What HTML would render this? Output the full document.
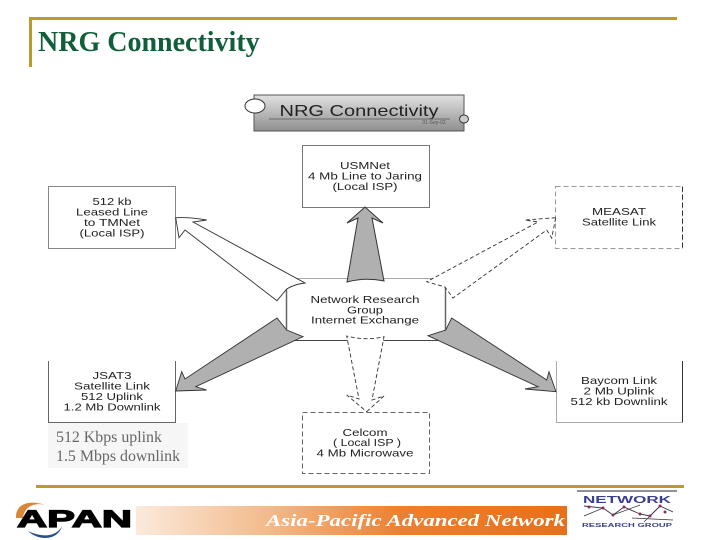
<!DOCTYPE html>
<html><head><meta charset="utf-8"><title>NRG Connectivity</title>
<style>
html,body{margin:0;padding:0;background:#fff}
svg{display:block}
.d{filter:blur(.3px)}
.d text{font-family:"Liberation Sans",sans-serif;font-size:10.5px;fill:#222;text-anchor:middle}
</style></head><body>
<svg width="720" height="540" viewBox="0 0 720 540" xmlns="http://www.w3.org/2000/svg">
<defs>
<linearGradient id="hd" x1="0" y1="0" x2="0" y2="1"><stop offset="0" stop-color="#e2e2e2"/><stop offset="1" stop-color="#8f8f8f"/></linearGradient>
<linearGradient id="bn" x1="0" y1="0" x2="1" y2="0"><stop offset="0" stop-color="#fbeadc"/><stop offset=".3" stop-color="#f3bb8d"/><stop offset=".62" stop-color="#ec7f2e"/><stop offset="1" stop-color="#e8701a"/></linearGradient>
</defs>
<rect width="720" height="540" fill="#fff"/>
<rect x="29" y="17" width="648" height="3" fill="#bd9a2c"/>
<rect x="29" y="17" width="3" height="50" fill="#bd9a2c"/>
<text x="38" y="51" font-family="'Liberation Serif',serif" font-weight="700" font-size="28" fill="#0f5f3a">NRG Connectivity</text>

<g class="d">
<rect x="254" y="95" width="210" height="36" fill="url(#hd)" stroke="#555" stroke-width="1"/>
<ellipse cx="255" cy="106" rx="10" ry="7" fill="#fff" stroke="#333"/>
<ellipse cx="464" cy="119" rx="4.500" ry="4" fill="#ccc" stroke="#333"/>
<text x="359" y="116" style="font-size:16px" textLength="159" lengthAdjust="spacingAndGlyphs">NRG Connectivity</text>
<line x1="269" y1="119" x2="450" y2="119" stroke="#555" stroke-width=".8"/>
<text x="434" y="124" style="font-size:5px;fill:#555">01-Sep-02</text>

<rect x="302.500" y="145.500" width="127" height="62" fill="#fff" stroke="#777"/>
<text x="365" y="169" textLength="50" lengthAdjust="spacingAndGlyphs">USMNet</text>
<text x="365" y="179.500" textLength="114" lengthAdjust="spacingAndGlyphs">4 Mb Line to Jaring</text>
<text x="365" y="190" textLength="65" lengthAdjust="spacingAndGlyphs">(Local ISP)</text>

<rect x="48.500" y="186.500" width="127" height="62" fill="#fff" stroke="#888"/>
<text x="112" y="205" textLength="39" lengthAdjust="spacingAndGlyphs">512 kb</text>
<text x="112" y="215.500" textLength="72" lengthAdjust="spacingAndGlyphs">Leased Line</text>
<text x="112" y="226" textLength="56" lengthAdjust="spacingAndGlyphs">to TMNet</text>
<text x="112" y="236.500" textLength="65" lengthAdjust="spacingAndGlyphs">(Local ISP)</text>

<rect x="555.500" y="186.500" width="127" height="62" fill="#fff" stroke="#999" stroke-dasharray="5 3"/>
<line x1="682.500" y1="186.500" x2="682.500" y2="248.500" stroke="#333" stroke-dasharray="5 3"/>
<text x="619" y="215" textLength="54" lengthAdjust="spacingAndGlyphs">MEASAT</text>
<text x="619" y="225.500" textLength="74" lengthAdjust="spacingAndGlyphs">Satellite Link</text>

<path d="M286.500 278.500H445.500V340.500H286.500Z" fill="#fff" stroke="none"/>
<path d="M286.500 278.500H445.500" stroke="#aaa" fill="none"/>
<path d="M445.500 278.500V340.500" stroke="#666" stroke-width="1.500" fill="none"/>
<path d="M286.500 340.500H445.500" stroke="#444" fill="none"/>
<path d="M286.500 278.500V340.500" stroke="#666" stroke-width="1.500" fill="none"/>
<text x="365" y="303" textLength="109" lengthAdjust="spacingAndGlyphs">Network Research</text>
<text x="365" y="313.500" textLength="36" lengthAdjust="spacingAndGlyphs">Group</text>
<text x="365" y="323.500" textLength="108" lengthAdjust="spacingAndGlyphs">Internet Exchange</text>

<path d="M48.500 361V422.500H175.500V361" fill="#fff" stroke="#666"/>
<text x="112" y="379" textLength="39" lengthAdjust="spacingAndGlyphs">JSAT3</text>
<text x="112" y="389.500" textLength="76" lengthAdjust="spacingAndGlyphs">Satellite Link</text>
<text x="112" y="400" textLength="62" lengthAdjust="spacingAndGlyphs">512 Uplink</text>
<text x="112" y="410.500" textLength="97" lengthAdjust="spacingAndGlyphs">1.2 Mb Downlink</text>

<rect x="302.500" y="412.500" width="127" height="61" fill="#fff" stroke="#666" stroke-dasharray="5 3"/>
<text x="365" y="436" textLength="45" lengthAdjust="spacingAndGlyphs">Celcom</text>
<text x="367" y="446" textLength="68" lengthAdjust="spacingAndGlyphs">( Local ISP )</text>
<text x="365" y="456.500" textLength="97" lengthAdjust="spacingAndGlyphs">4 Mb Microwave</text>

<path d="M556.500 361V422.500H682.500" fill="#fff" stroke="#aaa"/>
<path d="M682.500 361V422.500" stroke="#333" fill="none"/>
<text x="619" y="384" textLength="76" lengthAdjust="spacingAndGlyphs">Baycom Link</text>
<text x="619" y="394.500" textLength="71" lengthAdjust="spacingAndGlyphs">2 Mb Uplink</text>
<text x="619" y="405" textLength="97" lengthAdjust="spacingAndGlyphs">512 kb Downlink</text>

<path d="M365 207L383 223L372 218L384 281Q365 277 347 282L358 218L347 223Z" fill="#b0b0b0" stroke="#333" stroke-width="1"/>
<path d="M175.700 217.700Q190 217 206.700 220L193 222L305 283Q295 284 286.700 289L277 300.700L185 230L179 237.700Z" fill="#fff" stroke="#333" stroke-width=".9"/>
<path d="M555.700 217.700L525 220L538 222L426.700 281.700L445 287L453 298L546.700 230L551.700 238Z" fill="#fff" stroke="#333" stroke-width=".9" stroke-dasharray="4 2.500"/>
<path d="M175.700 391L206.700 390L195.700 386.700L303 336.700L286.700 330L277 318L185 379L181.700 371.700Z" fill="#b0b0b0" stroke="#333" stroke-width=".9"/>
<path d="M556 391.700L525 389L538 386.700L428 335.700L445.700 330L451.700 318L546.700 380L549 371.700Z" fill="#b0b0b0" stroke="#333" stroke-width=".9"/>
<path d="M366.700 411.700L384 396L372 400L384 336.700Q365 341 346.700 336L359 399L346.700 395Z" fill="#fff" stroke="#333" stroke-width=".9" stroke-dasharray="4 2.500"/>
</g>

<rect x="48" y="423" width="140" height="45" fill="#f6f6f6"/>
<g font-family="'Liberation Serif',serif" font-size="15.900" fill="#666">
<text x="56" y="442">512 Kbps uplink</text>
<text x="56" y="461">1.5 Mbps downlink</text>
</g>

<rect x="36" y="485" width="648" height="3" fill="#bd9a2c"/>

<path d="M16 518C15 505 28 499 45 505C34 502 24 507 23 518Z" fill="#d9873a"/>
<path d="M28 531C40 537 56 538 62 526C58 541 38 541 28 531Z" fill="#24508f"/>
<text x="17" y="527" font-family="'Liberation Sans',sans-serif" font-weight="700" font-size="24" fill="#000" stroke="#000" stroke-width="1.200" textLength="115" lengthAdjust="spacingAndGlyphs">APAN</text>

<rect x="136" y="506" width="431" height="29" fill="url(#bn)"/>
<text x="266" y="526" font-family="'Liberation Serif',serif" font-weight="700" font-style="italic" font-size="17" fill="#fff" textLength="299" lengthAdjust="spacingAndGlyphs">Asia-Pacific Advanced Network</text>

<line x1="577" y1="491" x2="677" y2="491" stroke="#222" stroke-width="1"/>
<text x="627" y="503" text-anchor="middle" font-family="'Liberation Sans',sans-serif" font-weight="700" font-size="10" fill="#3a3f8f" textLength="88" lengthAdjust="spacingAndGlyphs">NETWORK</text>
<path d="M584 506L603 508L613 515L624 507L640 514L650 516L660 506L673 512" fill="none" stroke="#333" stroke-width=".9"/>
<path d="M584 516L603 508M613 515L640 505M632 518L673 520M644 522L660 506" fill="none" stroke="#333" stroke-width=".7"/>
<g fill="#8a2a6a"><circle cx="589" cy="507" r="1.500"/><circle cx="603" cy="508" r="1.500"/><circle cx="613" cy="515" r="1.500"/><circle cx="624" cy="507" r="1.500"/><circle cx="640" cy="514" r="1.500"/><circle cx="650" cy="516" r="1.500"/><circle cx="660" cy="506" r="1.500"/><circle cx="665" cy="512" r="1.500"/></g>
<text x="627" y="527" text-anchor="middle" font-family="'Liberation Sans',sans-serif" font-weight="700" font-size="5.500" fill="#3a3f8f" textLength="90" lengthAdjust="spacingAndGlyphs">RESEARCH GROUP</text>
</svg>
</body></html>
